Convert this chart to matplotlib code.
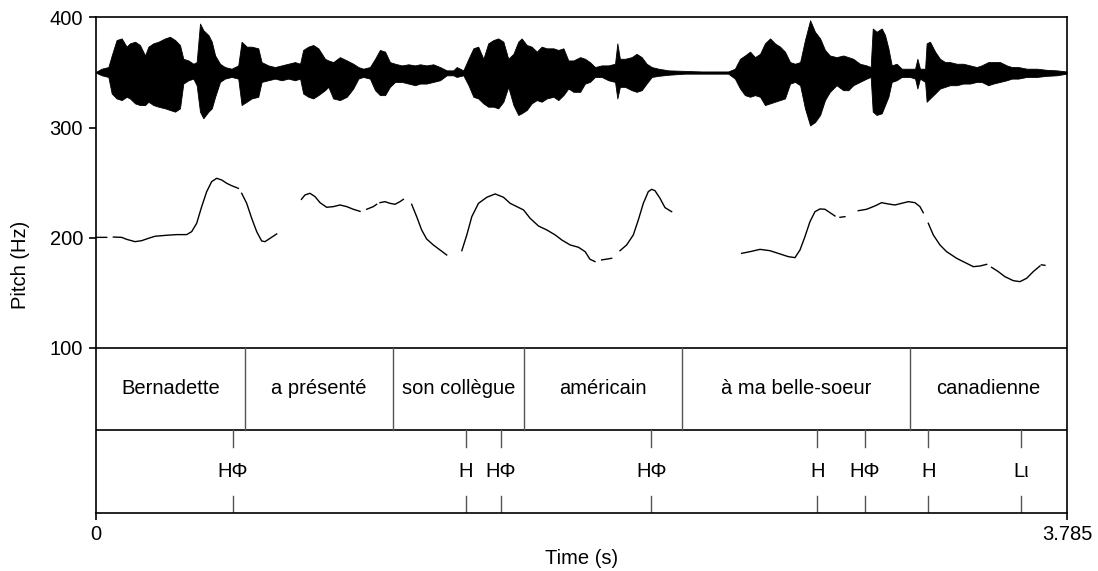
import numpy as np
import matplotlib
matplotlib.use("Agg")
import matplotlib.pyplot as plt

plt.rcParams['font.family'] = ['Liberation Sans', 'DejaVu Sans']
plt.rcParams['font.size'] = 14.5

# waveform envelope (time in s, amplitude relative to full scale)
wave_t = [0.000, 0.024, 0.050, 0.063, 0.082, 0.102, 0.121, 0.134, 0.154, 0.173,
          0.193, 0.206, 0.225, 0.245, 0.271, 0.290, 0.310, 0.329, 0.342, 0.362,
          0.381, 0.394, 0.407, 0.420, 0.440, 0.453, 0.466, 0.485, 0.504, 0.530,
          0.556, 0.569, 0.589, 0.608, 0.634, 0.647, 0.673, 0.699, 0.725, 0.751,
          0.777, 0.797, 0.809, 0.829, 0.848, 0.868, 0.894, 0.907, 0.926, 0.952,
          0.979, 1.004, 1.024, 1.043, 1.069, 1.089, 1.108, 1.128, 1.147, 1.167,
          1.193, 1.219, 1.245, 1.264, 1.290, 1.316, 1.342, 1.368, 1.394, 1.407,
          1.433, 1.453, 1.472, 1.491, 1.511, 1.530, 1.550, 1.569, 1.589, 1.608,
          1.628, 1.647, 1.660, 1.680, 1.699, 1.719, 1.738, 1.758, 1.784, 1.803,
          1.823, 1.842, 1.862, 1.888, 1.907,
          1.926, 1.946, 1.972, 1.998, 2.024, 2.033, 2.043, 2.063, 2.089, 2.108,
          2.128, 2.147, 2.167, 2.193, 2.232, 2.296, 2.361, 2.426, 2.465, 2.491,
          2.511, 2.530, 2.550, 2.569, 2.589, 2.608, 2.628, 2.647, 2.667, 2.686,
          2.706, 2.725, 2.745, 2.764, 2.784, 2.803, 2.823, 2.842, 2.861,
          2.887, 2.913, 2.933, 2.952, 2.978, 3.004, 3.020, 3.028, 3.043, 3.063,
          3.076, 3.089, 3.102, 3.121, 3.141, 3.173, 3.193, 3.202, 3.212, 3.232,
          3.238, 3.251, 3.271, 3.290, 3.310, 3.329, 3.355, 3.381, 3.407, 3.433,
          3.452, 3.478, 3.498, 3.524, 3.550, 3.570, 3.595, 3.628, 3.667, 3.705,
          3.745, 3.783]
wave_up = [0.01, 0.07, 0.10, 0.31, 0.59, 0.62, 0.47, 0.53, 0.56, 0.50,
           0.31, 0.47, 0.53, 0.56, 0.62, 0.65, 0.59, 0.50, 0.25, 0.22,
           0.16, 0.19, 0.89, 0.77, 0.68, 0.56, 0.31, 0.16, 0.10, 0.07,
           0.13, 0.56, 0.47, 0.47, 0.44, 0.19, 0.13, 0.10, 0.13, 0.16,
           0.19, 0.16, 0.41, 0.47, 0.50, 0.44, 0.25, 0.22, 0.19, 0.28,
           0.22, 0.16, 0.10, 0.07, 0.10, 0.25, 0.41, 0.38, 0.19, 0.16,
           0.13, 0.15, 0.13, 0.15, 0.13, 0.15, 0.10, 0.04, 0.04, 0.10,
           0.04, 0.25, 0.44, 0.47, 0.25, 0.53, 0.59, 0.62, 0.56, 0.25,
           0.34, 0.56, 0.62, 0.50, 0.47, 0.38, 0.47, 0.44, 0.44, 0.41,
           0.44, 0.22, 0.22, 0.28, 0.25,
           0.19, 0.10, 0.13, 0.13, 0.16, 0.53, 0.25, 0.25, 0.28, 0.34,
           0.28, 0.16, 0.10, 0.07, 0.04, 0.03, 0.02, 0.02, 0.02, 0.07,
           0.25, 0.31, 0.38, 0.28, 0.34, 0.53, 0.62, 0.53, 0.47, 0.38,
           0.19, 0.16, 0.19, 0.59, 0.95, 0.74, 0.62, 0.41, 0.31,
           0.28, 0.31, 0.28, 0.25, 0.16, 0.13, 0.10, 0.80, 0.74, 0.80,
           0.68, 0.44, 0.13, 0.16, 0.07, 0.07, 0.07, 0.25, 0.07, 0.07,
           0.53, 0.56, 0.38, 0.25, 0.19, 0.19, 0.16, 0.16, 0.13, 0.10,
           0.13, 0.19, 0.19, 0.19, 0.13, 0.10, 0.10, 0.07, 0.07, 0.05,
           0.04, 0.02]
wave_lo = [0.00, 0.05, 0.08, 0.38, 0.47, 0.50, 0.44, 0.47, 0.56, 0.59,
           0.59, 0.53, 0.59, 0.62, 0.65, 0.68, 0.71, 0.65, 0.20, 0.14,
           0.11, 0.23, 0.71, 0.83, 0.71, 0.65, 0.44, 0.17, 0.11, 0.08,
           0.11, 0.59, 0.53, 0.47, 0.44, 0.17, 0.14, 0.11, 0.14, 0.11,
           0.14, 0.11, 0.38, 0.44, 0.47, 0.41, 0.32, 0.26, 0.47, 0.50,
           0.44, 0.29, 0.11, 0.08, 0.11, 0.32, 0.41, 0.41, 0.26, 0.17,
           0.17, 0.20, 0.23, 0.20, 0.20, 0.17, 0.14, 0.05, 0.05, 0.08,
           0.05, 0.23, 0.44, 0.47, 0.56, 0.62, 0.62, 0.65, 0.53, 0.26,
           0.59, 0.77, 0.74, 0.68, 0.56, 0.50, 0.53, 0.47, 0.44, 0.50,
           0.41, 0.29, 0.35, 0.35, 0.20,
           0.17, 0.08, 0.08, 0.14, 0.17, 0.47, 0.26, 0.26, 0.32, 0.35,
           0.32, 0.20, 0.08, 0.06, 0.04, 0.02, 0.02, 0.02, 0.02, 0.11,
           0.29, 0.41, 0.44, 0.41, 0.44, 0.59, 0.56, 0.53, 0.50, 0.47,
           0.20, 0.17, 0.23, 0.65, 0.96, 0.90, 0.77, 0.50, 0.35,
           0.23, 0.32, 0.32, 0.23, 0.17, 0.11, 0.08, 0.71, 0.77, 0.74,
           0.59, 0.44, 0.17, 0.14, 0.08, 0.08, 0.11, 0.29, 0.11, 0.17,
           0.53, 0.47, 0.38, 0.29, 0.26, 0.23, 0.23, 0.20, 0.20, 0.17,
           0.17, 0.23, 0.20, 0.17, 0.14, 0.11, 0.11, 0.08, 0.08, 0.06,
           0.05, 0.02]

# pitch contour, NaN = unvoiced gap
nan = np.nan
pitch_t = [0.0046, 0.0435, nan,
           0.0695, 0.1019, 0.1214, 0.1539, 0.1799, 0.2058, 0.2318, 0.2773, 0.3162, 0.3552,
           0.3746, 0.3941, 0.4136, 0.4331, 0.4525, 0.4720, 0.4915, 0.5110, 0.5304, 0.5564, nan,
           0.5694, 0.5889, 0.6084, 0.6279, 0.6473, 0.6603, 0.6798, 0.7058, nan,
           0.8022, 0.8161, 0.8356, 0.8551, 0.8746, 0.9005, 0.9265, 0.9525, 0.9785, 1.0044, 1.0304, nan,
           1.0564, 1.0823, 1.0953, nan,
           1.1083, 1.1278, 1.1473, 1.1667, 1.1862, 1.1992, nan,
           1.2317, 1.2512, 1.2706, 1.2901, 1.3161, 1.3421, 1.3681, nan,
           1.4271, 1.4465, 1.4660, 1.4920, 1.5245, 1.5570, 1.5894, 1.6154, 1.6414, 1.6674,
           1.6933, 1.7258, 1.7583, 1.7908, 1.8167, 1.8492, 1.8817, 1.9076, 1.9264, 1.9459, nan,
           1.9719, 2.0108, nan,
           2.0433, 2.0692, 2.0952, 2.1147, 2.1342, 2.1536, 2.1666, 2.1796, 2.1991, 2.2186, 2.2445, nan,
           2.5173, 2.5497, 2.5887, 2.6276, 2.6666, 2.6990, 2.7250, 2.7445, 2.7640, 2.7834,
           2.8029, 2.8224, 2.8418, 2.8613, 2.8808, nan,
           2.9003, 2.9198, nan,
           2.9717, 3.0042, 3.0366, 3.0626, 3.0886, 3.1145, 3.1405, 3.1665, 3.1925, 3.2119, 3.2249, nan,
           3.2444, 3.2639, 3.2899, 3.3158, 3.3548, 3.3937, 3.4197, 3.4457, 3.4717, nan,
           3.4911, 3.5171, 3.5431, 3.5755, 3.6015, 3.6275, 3.6534, 3.6794, nan,
           3.6850, 3.6989]
pitch_hz = [200.4, 200.4, nan,
            200.7, 200.4, 198.6, 196.5, 197.4, 199.5, 201.4, 202.3, 202.9, 202.9,
            205.6, 213.2, 228.3, 241.9, 251.0, 254.0, 252.5, 249.5, 247.3, 244.9, nan,
            240.4, 231.3, 217.7, 205.6, 197.1, 196.5, 199.5, 203.5, nan,
            234.9, 238.9, 240.4, 237.4, 231.9, 227.7, 228.3, 229.8, 228.3, 225.9, 224.0, nan,
            225.9, 228.3, 230.4, nan,
            231.9, 232.8, 231.3, 230.4, 232.8, 234.9, nan,
            230.4, 219.2, 207.1, 198.9, 193.5, 188.9, 184.4, nan,
            188.3, 202.6, 219.2, 231.3, 236.8, 239.8, 236.8, 231.3, 228.3, 225.3,
            217.7, 210.7, 207.1, 202.6, 198.0, 193.5, 191.4, 187.4, 180.5, 178.4, nan,
            179.9, 181.4, nan,
            188.3, 193.5, 202.6, 216.2, 231.3, 241.9, 244.0, 242.8, 235.9, 227.4, 223.7, nan,
            185.9, 187.4, 189.5, 188.3, 185.3, 182.9, 182.0, 188.9, 201.1, 214.6,
            223.7, 226.2, 225.9, 222.8, 219.8, nan,
            218.6, 219.2, nan,
            224.6, 225.9, 228.9, 231.9, 230.7, 229.8, 231.3, 232.8, 231.9, 228.3, 222.8, nan,
            213.2, 202.6, 193.5, 187.4, 181.4, 176.8, 173.8, 174.4, 175.9, nan,
            173.2, 169.3, 164.7, 161.1, 160.2, 163.2, 169.3, 174.4, nan,
            175.5, 175.0]

words = ["Bernadette", "a présenté", "son collègue", "américain",
         "à ma belle-soeur", "canadienne"]
word_bounds = [0.0, 0.5824, 1.1590, 1.6693, 2.2860, 3.1729, 3.785]
tone_times = [0.5345, 1.4421, 1.5785, 2.1652, 2.8118, 2.9976, 3.2443, 3.6054]
tone_labels = ["HΦ", "H", "HΦ", "HΦ", "H", "HΦ", "H", "Lι"]

t_end = 3.785
y_top = 400
y_tier1 = 100
y_tier2 = 25.6
y_bot = -49.8

fig = plt.figure(figsize=(10.98, 5.71), dpi=100)
ax = fig.add_axes([0.0870, 0.1016, 0.8848, 0.8678])

# sound wave squeezed into 300..400 Hz band
wt = np.array(wave_t)
ax.fill_between(wt, 350 + 50 * np.array(wave_up), 350 - 50 * np.array(wave_lo),
                color='black', linewidth=0.6, edgecolor='black')

ax.plot(pitch_t, pitch_hz, color='black', linewidth=1.0)

# text grid tiers
ax.axhline(y_tier1, color='black', linewidth=1.2)
ax.axhline(y_tier2, color='black', linewidth=1.2)
for b in word_bounds[1:-1]:
    ax.plot([b, b], [y_tier2, y_tier1], color='#555555', linewidth=1.0)
for i, w in enumerate(words):
    ax.text((word_bounds[i] + word_bounds[i + 1]) / 2, (y_tier1 + y_tier2) / 2, w,
            ha='center', va='center')

tick_len = 15.4
for t, lab in zip(tone_times, tone_labels):
    ax.plot([t, t], [y_tier2, y_tier2 - tick_len], color='#555555', linewidth=1.0)
    ax.plot([t, t], [y_bot, y_bot + tick_len], color='#555555', linewidth=1.0)
    ax.text(t, (y_tier2 + y_bot) / 2, lab, ha='center', va='center')

ax.set_xlim(0, t_end)
ax.set_ylim(y_bot, y_top)
ax.set_xticks([0, t_end])
ax.set_xticklabels(["0", "3.785"])
ax.set_yticks([100, 200, 300, 400])
ax.tick_params(direction='out', length=5, width=1.2, pad=4)
for s in ax.spines.values():
    s.set_linewidth(1.2)
ax.set_ylabel("Pitch (Hz)", labelpad=14)
ax.set_xlabel("Time (s)", labelpad=3)

plt.savefig("out.png", dpi=100)
